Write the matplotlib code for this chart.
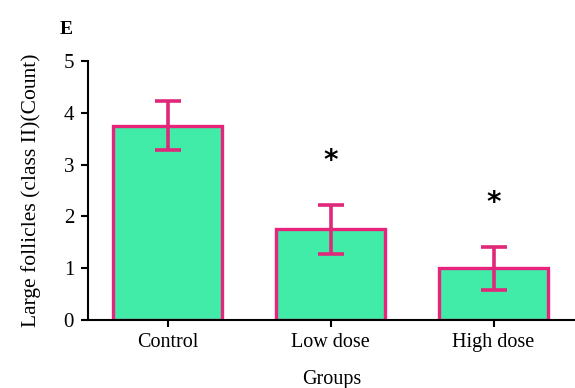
import matplotlib
matplotlib.use("Agg")
import matplotlib.pyplot as plt
import numpy as np

# group means and SEM for large (class II) follicles
groups = ["Control", "Low dose", "High dose"]
means = [3.75, 1.75, 1.0]
errors = [0.47, 0.47, 0.41]
stars = ["", "*", "*"]

plt.rcParams['font.family'] = ['Liberation Serif', 'DejaVu Serif']

fig = plt.figure(figsize=(5.75, 3.88), dpi=100)
ax = fig.add_axes([0.153, 0.175, 0.847, 0.668])

x = np.arange(len(groups))
ax.bar(x, means, width=0.67, color='#40eca8', edgecolor='#e8237c',
       linewidth=2.4, zorder=2)
ax.errorbar(x, means, yerr=errors, fmt='none', ecolor='#e0287a',
            elinewidth=2.6, capsize=9.5, capthick=2.6, zorder=3)

# significance marks above the treated groups
for xi, m, e, s in zip(x, means, errors, stars):
    if s:
        ax.text(xi, m + e + 0.85, s, ha='center', va='center',
                fontsize=20, fontweight='bold', family='DejaVu Sans')

ax.set_xlim(-0.49, 2.5)
ax.set_ylim(0, 5)
ax.set_yticks([0, 1, 2, 3, 4, 5])
ax.set_xticks(x)
ax.set_xticklabels(groups, fontsize=14.5)
ax.tick_params(axis='y', labelsize=15, length=5, width=1.5, pad=5)
ax.tick_params(axis='x', length=5, width=1.5, pad=4)

for side in ['top', 'right']:
    ax.spines[side].set_visible(False)
ax.spines['left'].set_linewidth(1.5)
ax.spines['bottom'].set_linewidth(1.5)

ax.set_ylabel("Large follicles (class II)(Count)", fontsize=15.5, labelpad=16)
ax.set_xlabel("Groups", fontsize=14.5, labelpad=13)
fig.text(0.115, 0.925, "E", fontsize=14, fontweight='bold', ha='center', va='center')

fig.savefig("out.png", dpi=100)
